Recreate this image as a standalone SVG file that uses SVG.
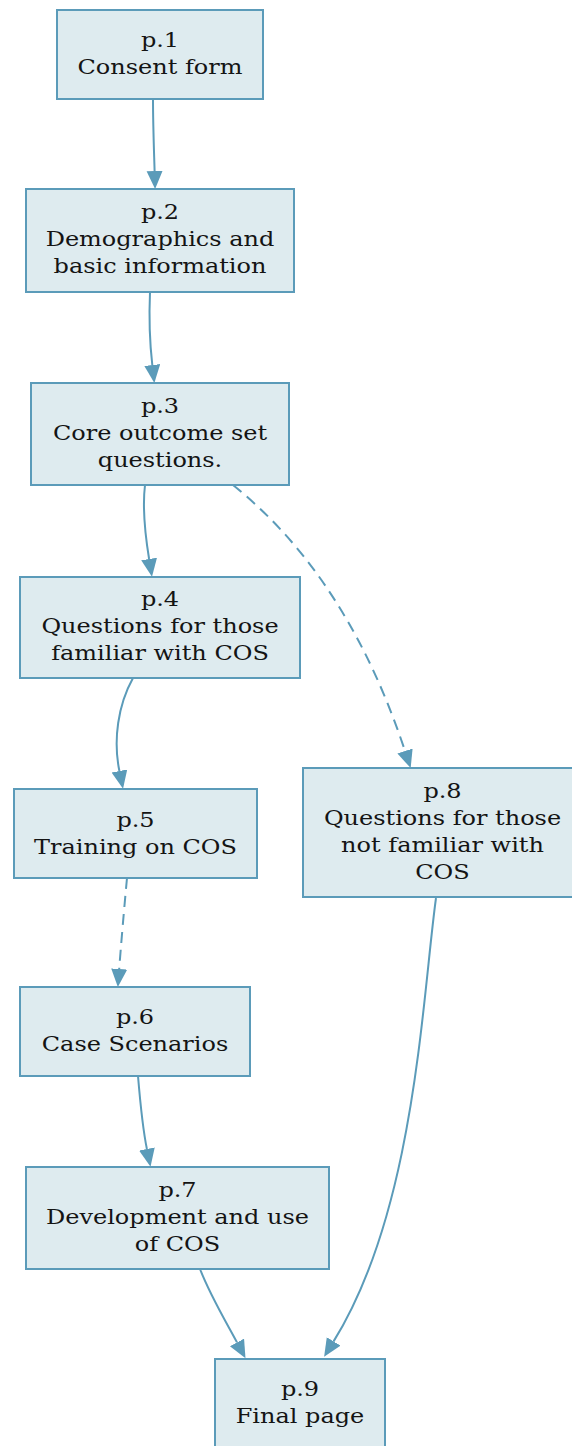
<svg xmlns="http://www.w3.org/2000/svg" width="572" height="1446" viewBox="0 0 572 1446">
<style>
.box{fill:#deebef;stroke:#5b9bb9;stroke-width:2}
.t{font-family:"DejaVu Serif",serif;font-size:20px;fill:#141414;text-anchor:middle}
.e{fill:none;stroke:#5b9bb9;stroke-width:2}
.d{stroke-dasharray:11,7}
</style>
<defs>
<marker id="ah" markerUnits="userSpaceOnUse" markerWidth="20" markerHeight="18" refX="0" refY="8" orient="auto">
<path d="M0,0 L18,8 L0,16 z" fill="#5b9bb9"/>
</marker>
</defs>
<rect width="572" height="1446" fill="#ffffff"/>
<g id="connectors">
<path class="e" d="M153,99 C153,125 154,150 154.6,171" marker-end="url(#ah)"/>
<path class="e" d="M150,292 C149,315 150,345 152.3,365" marker-end="url(#ah)"/>
<path class="e" d="M145,485 C142,510 146,540 149.1,559" marker-end="url(#ah)"/>
<path class="e d" d="M233,485 C295,535 360,615 405,751" marker-end="url(#ah)"/>
<path class="e" d="M133,678 C118,705 113,740 119.4,771" marker-end="url(#ah)"/>
<path class="e d" d="M127,878 C124,910 121,945 119.2,969" marker-end="url(#ah)"/>
<path class="e" d="M138,1076 C140,1100 143,1130 146.9,1149" marker-end="url(#ah)"/>
<path class="e" d="M200,1269 C210,1295 225,1320 237,1342.4" marker-end="url(#ah)"/>
<path class="e" d="M436,898 C422,1000 415,1210 333.6,1341.4" marker-end="url(#ah)"/>
</g>
<g id="p1"><rect class="box" x="57" y="10" width="206" height="89"/>
<text class="t" transform="translate(160,0) scale(1.2,1)"><tspan x="0" y="47">p.1</tspan><tspan x="0" y="74">Consent form</tspan></text></g>
<g id="p2"><rect class="box" x="26" y="189" width="268" height="103"/>
<text class="t" transform="translate(160,0) scale(1.2,1)"><tspan x="0" y="219.5">p.2</tspan><tspan x="0" y="246.5">Demographics and</tspan><tspan x="0" y="273.5">basic information</tspan></text></g>
<g id="p3"><rect class="box" x="31" y="383" width="258" height="102"/>
<text class="t" transform="translate(160,0) scale(1.2,1)"><tspan x="0" y="413">p.3</tspan><tspan x="0" y="440">Core outcome set</tspan><tspan x="0" y="467">questions.</tspan></text></g>
<g id="p4"><rect class="box" x="20" y="577" width="280" height="101"/>
<text class="t" transform="translate(160,0) scale(1.2,1)"><tspan x="0" y="606.5">p.4</tspan><tspan x="0" y="633.5">Questions for those</tspan><tspan x="0" y="660.5">familiar with COS</tspan></text></g>
<g id="p5"><rect class="box" x="14" y="789" width="243" height="89"/>
<text class="t" transform="translate(135.5,0) scale(1.2,1)"><tspan x="0" y="827">p.5</tspan><tspan x="0" y="854">Training on COS</tspan></text></g>
<g id="p8"><rect class="box" x="303" y="768" width="279" height="129"/>
<text class="t" transform="translate(442.5,0) scale(1.2,1)"><tspan x="0" y="798">p.8</tspan><tspan x="0" y="825">Questions for those</tspan><tspan x="0" y="852">not familiar with</tspan><tspan x="0" y="879">COS</tspan></text></g>
<g id="p6"><rect class="box" x="20" y="987" width="230" height="89"/>
<text class="t" transform="translate(135,0) scale(1.2,1)"><tspan x="0" y="1024">p.6</tspan><tspan x="0" y="1051">Case Scenarios</tspan></text></g>
<g id="p7"><rect class="box" x="26" y="1167" width="303" height="102"/>
<text class="t" transform="translate(177.5,0) scale(1.2,1)"><tspan x="0" y="1197">p.7</tspan><tspan x="0" y="1224">Development and use</tspan><tspan x="0" y="1251">of COS</tspan></text></g>
<g id="p9"><rect class="box" x="215" y="1359" width="170" height="90"/>
<text class="t" transform="translate(300,0) scale(1.2,1)"><tspan x="0" y="1396">p.9</tspan><tspan x="0" y="1423">Final page</tspan></text></g>
</svg>
